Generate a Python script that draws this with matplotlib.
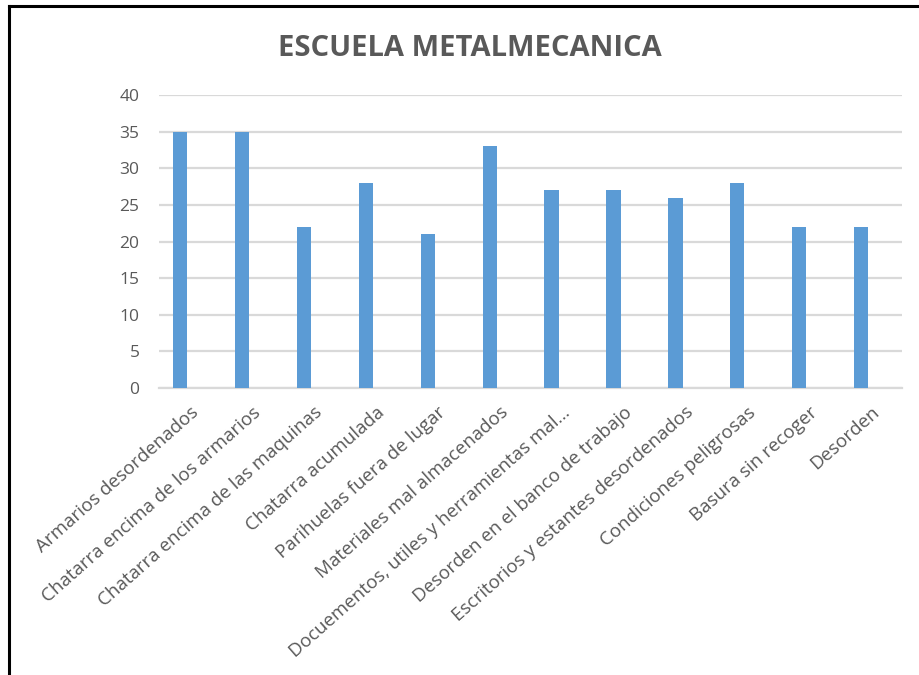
import matplotlib
matplotlib.use("Agg")
import matplotlib.pyplot as plt
from matplotlib.lines import Line2D
import numpy as np

categories = [
    "Armarios desordenados",
    "Chatarra encima de los armarios",
    "Chatarra encima de las maquinas",
    "Chatarra acumulada",
    "Parihuelas fuera de lugar",
    "Materiales mal almacenados",
    "Docuementos, utiles y herramientas mal…",
    "Desorden en el banco de trabajo",
    "Escritorios y estantes desordenados",
    "Condiciones peligrosas",
    "Basura sin recoger",
    "Desorden",
]
values = [35, 35, 22, 28, 21, 33, 27, 27, 26, 28, 22, 22]
yticks = [0, 5, 10, 15, 20, 25, 30, 35, 40]
title = "ESCUELA METALMECANICA"

plt.rcParams['font.family'] = ['Open Sans', 'DejaVu Sans']
TXT = "#595959"

fig = plt.figure(figsize=(9.2, 6.75), dpi=100)
W, H = 920, 675
ax = fig.add_axes([159 / W, 1 - 388 / H, (902 - 159) / W, (388 - 95) / H])

x = np.arange(len(categories))
ax.bar(x - 0.16, values, width=0.23, color="#5B9BD5", zorder=3)

ax.set_xlim(-0.5, len(categories) - 0.5)
ax.set_ylim(0, 40)
ax.set_yticks(yticks)
ax.set_yticklabels([str(v) for v in yticks], fontsize=12.5, color=TXT)
ax.set_xticks(x)
ax.set_xticklabels(categories, rotation=41.5, ha="right", rotation_mode="anchor",
                   fontsize=13.5, color=TXT)
ax.tick_params(axis="both", length=0)
ax.tick_params(axis="y", pad=14)
ax.tick_params(axis="x", pad=11)
ax.grid(axis="y", color="#D9D9D9", linewidth=1.6, zorder=0)
for s in ["top", "right", "left"]:
    ax.spines[s].set_visible(False)
ax.spines["bottom"].set_color("#D9D9D9")
ax.spines["bottom"].set_linewidth(1.6)

fig.text(470 / W, 1 - 48 / H, title, ha="center", va="center",
         fontsize=21, fontweight="bold", color=TXT)

# black frame (left and top)
fig.add_artist(Line2D([9 / W, 9 / W], [0, 1 - 6 / H], color="black", linewidth=2.2,
                      transform=fig.transFigure))
fig.add_artist(Line2D([9 / W, 1], [1 - 6 / H, 1 - 6 / H], color="black", linewidth=2.2,
                      transform=fig.transFigure))

fig.savefig("out.png", dpi=100)
